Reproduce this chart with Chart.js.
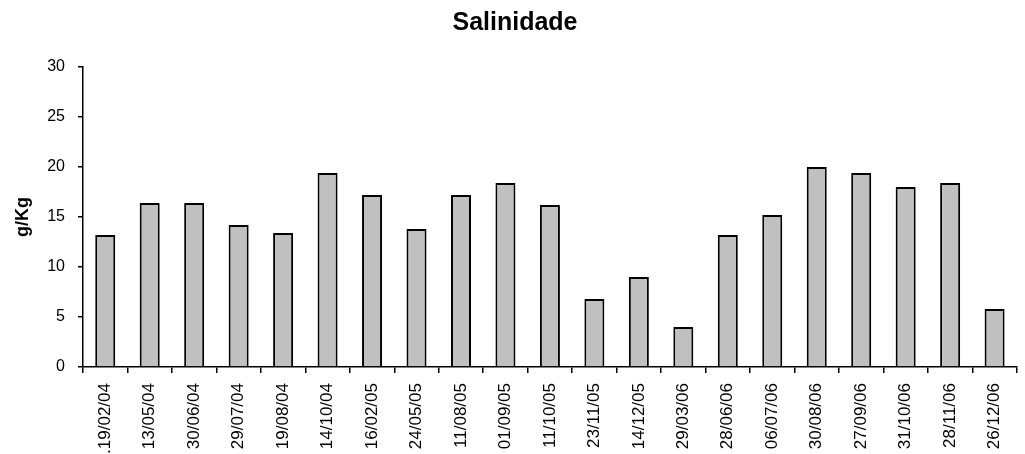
<!DOCTYPE html>
<html>
<head>
<meta charset="utf-8">
<script src="https://cdn.jsdelivr.net/npm/chart.js"></script>
<style>
  html, body { margin: 0; padding: 0; background: #fff; }
  #wrap { width: 1025px; height: 454px; }
</style>
</head>
<body>
<div id="wrap"><canvas id="myChart"></canvas></div>
<script>
const datas = ['.19/02/04', '13/05/04', '30/06/04', '29/07/04', '19/08/04', '14/10/04', '16/02/05',
  '24/05/05', '11/08/05', '01/09/05', '11/10/05', '23/11/05', '14/12/05', '29/03/06', '28/06/06',
  '06/07/06', '30/08/06', '27/09/06', '31/10/06', '28/11/06', '26/12/06'];
const salinidade = [13.2, 16.4, 16.4, 14.2, 13.4, 19.4, 17.2, 13.8, 17.2, 18.4, 16.2,
  6.8, 9.0, 4.0, 13.2, 15.2, 20.0, 19.4, 18.0, 18.4, 5.8];
const yTicks = [0, 5, 10, 15, 20, 25, 30];

const sal = document.getElementById('myChart');

Chart.defaults.font.family = '"Liberation Sans", Arial, sans-serif';
Chart.defaults.color = '#000';

new Chart(sal, {
  type: 'bar',
  data: {
    labels: datas,
    datasets: [{
      label: 'Salinidade',
      data: salinidade,
      backgroundColor: '#c0c0c0',
      borderColor: '#000',
      borderWidth: 2,
      barPercentage: 0.45,
      categoryPercentage: 1
    }]
  },
  options: {
    responsive: true,
    maintainAspectRatio: false,
    animation: false,
    layout: {
      padding: { left: 0, right: -5, top: 0, bottom: 0 }
    },
    scales: {
      x: {
        grid: {
          display: true,
          drawOnChartArea: false,
          color: '#000',
          lineWidth: 1.5,
          tickLength: 6
        },
        border: { color: '#000', width: 1.5 },
        ticks: {
          minRotation: 90,
          maxRotation: 90,
          autoSkip: false,
          padding: 10,
          font: { size: 17 }
        },
        afterFit: (scale) => { scale.height = 87; }
      },
      y: {
        min: 0,
        max: 30,
        afterBuildTicks: (scale) => {
          scale.ticks = yTicks.map(v => ({ value: v }));
        },
        grid: {
          display: true,
          drawOnChartArea: false,
          color: '#000',
          lineWidth: 1.5,
          tickLength: 5
        },
        border: { color: '#000', width: 1.5 },
        ticks: {
          padding: 13,
          font: { size: 16 }
        },
        title: {
          display: true,
          text: 'g/Kg',
          padding: { top: 12, bottom: 0 },
          font: { size: 18, weight: 'bold' }
        },
        afterFit: (scale) => { scale.width = 83; }
      }
    },
    plugins: {
      legend: { display: false },
      tooltip: { enabled: false },
      title: {
        display: true,
        text: 'Salinidade',
        padding: { top: 8, bottom: 29 },
        font: { size: 25, weight: 'bold' }
      }
    }
  }
});
</script>
</body>
</html>
